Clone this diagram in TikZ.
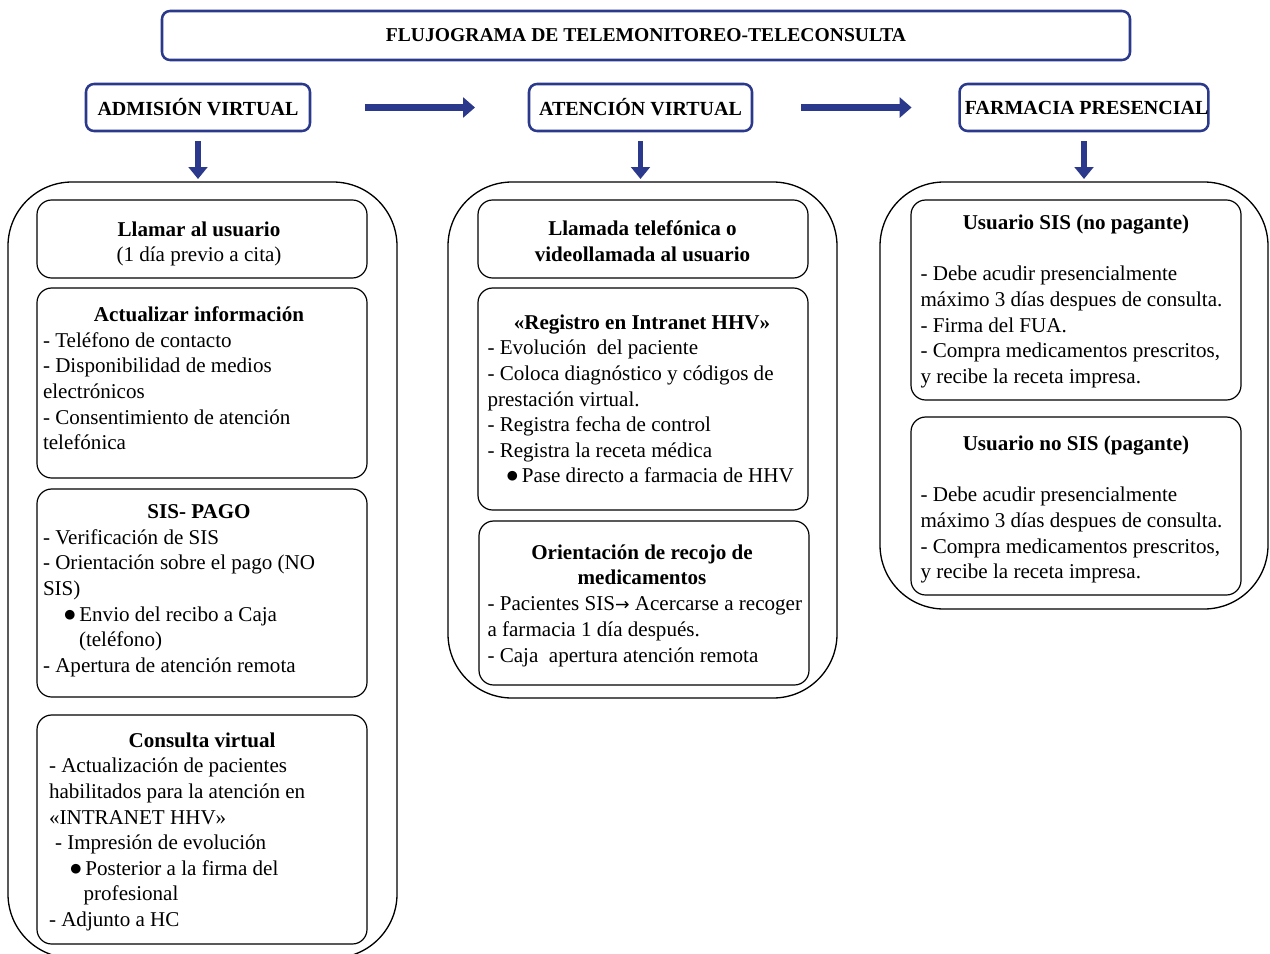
\documentclass[tikz,border=0pt]{standalone}
\usepackage{fontspec}
\setmainfont{Liberation Serif}
\newfontfamily\symb{DejaVu Sans}
\usetikzlibrary{arrows.meta}
\definecolor{navy}{RGB}{43,57,140}
\newcommand\bodyfont{\fontsize{15.8pt}{19.2pt}\selectfont}
\newcommand\stt{\rule{0pt}{15.6pt}}
\newcommand\bul{\raisebox{2.2pt}{\symb\fontsize{9.5pt}{9.5pt}\selectfont ●}}
\newcommand\bl[1]{\hspace*{#1}\makebox[11.25pt][l]{\bul}}
\newcommand\rarr{\raisebox{0.5pt}{\symb\fontsize{13pt}{13pt}\selectfont →}}
\begin{document}
\begin{tikzpicture}[x=0.75pt,y=-0.75pt, outer sep=0pt,
 hdr/.style={draw=navy, line width=1.9pt, rounded corners=6pt, inner sep=0pt,
   font=\bfseries\fontsize{15pt}{18pt}\selectfont, minimum height=35.25pt},
 ttl/.style={hdr, font=\bfseries\fontsize{14.7pt}{18pt}\selectfont,
   minimum width=726pt, minimum height=36.75pt},
 outerbox/.style={draw, line width=1pt, rounded corners=48pt, inner sep=0pt},
 innerbox/.style={draw, line width=0.9pt, rounded corners=11pt, inner sep=0pt, minimum width=247.5pt},
 headtxt/.style={inner sep=0pt, anchor=north, align=center, font=\bodyfont\bfseries},
 listtxt/.style={inner sep=0pt, anchor=north west, align=left, font=\bodyfont},
 harrow/.style={draw=navy, line width=4.6pt, -{Triangle[length=9pt,width=15pt]}},
 varrow/.style={draw=navy, line width=4.2pt, -{Triangle[length=9pt,width=14pt]}},
]
\useasboundingbox (0,0) rectangle (1270,953);

% title and headers
\node[ttl] (title) at (646,35.5) {FLUJOGRAMA DE TELEMONITOREO-TELECONSULTA};
\node[hdr, minimum width=168pt] (adm) at (198,107.5) {ADMISIÓN VIRTUAL};
\node[hdr, minimum width=167.25pt] (ate) at (640.5,107.5) {ATENCIÓN VIRTUAL};
\node[hdr, minimum width=186pt] (far) at (1084,107.5) {\hspace*{4pt}FARMACIA PRESENCIAL};

% outer containers
\node[outerbox, minimum width=291.75pt, minimum height=582pt] (outL) at (202.5,570) {};
\node[outerbox, minimum width=291.75pt, minimum height=387pt] (outM) at (642.5,440) {};
\node[outerbox, minimum width=291pt, minimum height=320.25pt] (outR) at (1074,395.5) {};

% inner boxes
\node[innerbox, minimum height=58.5pt] (L1) at (202,239) {};
\node[innerbox, minimum height=142.5pt] (L2) at (202,383) {};
\node[innerbox, minimum height=156pt] (L3) at (202,593) {};
\node[innerbox, minimum height=171.75pt] (L4) at (202,829.5) {};
\node[innerbox, minimum height=58.5pt] (M1) at (643,239) {};
\node[innerbox, minimum height=166.5pt] (M2) at (643,399) {};
\node[innerbox, minimum height=123pt] (M3) at (644,603) {};
\node[innerbox, minimum height=150pt] (R1) at (1076,300) {};
\node[innerbox, minimum height=133.5pt] (R2) at (1076,506) {};

% left column texts
\node[headtxt] (L1t) at (199,215.5) {\stt Llamar al usuario\\{\mdseries (1 día previo a cita)}};
\node[headtxt] (L2t) at (199,300.5) {\stt Actualizar información};
\node[listtxt] (L2l) at (43,326.5) {\stt - Teléfono de contacto\\- Disponibilidad de medios\\electrónicos\\- Consentimiento de atención\\telefónica};
\node[headtxt] (L3t) at (199,498) {\stt SIS- PAGO};
\node[listtxt] (L3l) at (43,523.5) {\stt - Verificación de SIS\\- Orientación sobre el pago (NO\\SIS)\\\bl{16pt}Envio del recibo a Caja\\\hspace*{27pt}(teléfono)\\- Apertura de atención remota};
\node[headtxt] (L4t) at (202,726.7) {\stt Consulta virtual};
\node[listtxt] (L4l) at (49,752) {\stt - Actualización de pacientes\\habilitados para la atención en\\«INTRANET HHV»\\\hspace*{4.5pt}- Impresión de evolución\\\bl{16pt}Posterior a la firma del\\\hspace*{26pt}profesional\\- Adjunto a HC};

% middle column texts
\node[headtxt] (M1t) at (642.5,215) {\stt Llamada telefónica o\\videollamada al usuario};
\node[headtxt] (M2t) at (642,308.3) {\stt «Registro en Intranet HHV»};
\node[listtxt] (M2l) at (487.5,334) {\stt - Evolución\ \ del paciente\\- Coloca diagnóstico y códigos de\\prestación virtual.\\- Registra fecha de control\\- Registra la receta médica\\\bl{14.5pt}Pase directo a farmacia de HHV};
\node[headtxt] (M3t) at (642,538.3) {\stt Orientación de recojo de\\medicamentos};
\node[listtxt] (M3l) at (487.5,590) {\stt - Pacientes SIS\rarr{} Acercarse a recoger\\a farmacia 1 día después.\\- Caja\ \ apertura atención remota};

% right column texts
\node[headtxt] (R1t) at (1076,208.3) {\stt Usuario SIS (no pagante)};
\node[listtxt] (R1l) at (920.5,260) {\stt - Debe acudir presencialmente\\máximo 3 días despues de consulta.\\- Firma del FUA.\\- Compra medicamentos prescritos,\\y recibe la receta impresa.};
\node[headtxt] (R2t) at (1076,430) {\stt Usuario no SIS (pagante)};
\node[listtxt] (R2l) at (920.5,481) {\stt - Debe acudir presencialmente\\máximo 3 días despues de consulta.\\- Compra medicamentos prescritos,\\y recibe la receta impresa.};

% arrows
\draw[harrow, shorten <=41.25pt, shorten >=40.5pt] (adm.east) -- (ate.west);
\draw[harrow, shorten <=36.75pt, shorten >=36pt] (ate.east) -- (far.west);
\draw[varrow, shorten <=7.5pt, shorten >=2.25pt] (adm.south) -- (adm.south |- outL.north);
\draw[varrow, shorten <=7.5pt, shorten >=2.25pt] (ate.south) -- (ate.south |- outM.north);
\draw[varrow, shorten <=7.5pt, shorten >=2.25pt] (far.south) -- (far.south |- outR.north);
\end{tikzpicture}
\end{document}
